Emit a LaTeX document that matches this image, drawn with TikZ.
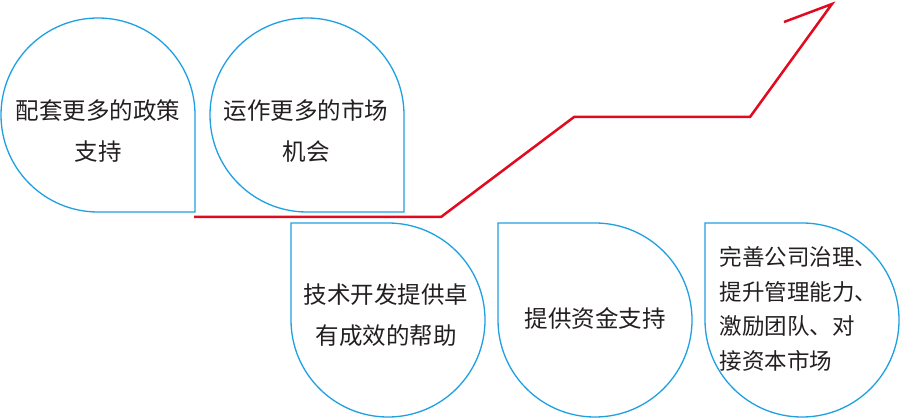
\documentclass[tikz,border=0pt]{standalone}
\usepackage{fontspec}
\newfontfamily\cjk{Noto Sans CJK SC}
\definecolor{bl}{RGB}{30,160,225}
\definecolor{rd}{RGB}{225,10,30}
\definecolor{tx}{RGB}{35,31,32}
\begin{document}
\begin{tikzpicture}[x=1pt,y=1pt,
  drop/.style={draw=bl,line width=1.3pt},
  lbl/.style={text=tx,font=\cjk\fontsize{23.5}{41}\selectfont,align=center},
  lbl4/.style={text=tx,font=\cjk\fontsize{22.5}{34.5}\selectfont,align=left}]
\useasboundingbox (0,0) rectangle (901,-419);
% top drops
\draw[drop] (195,-114) -- (195,-212) -- (98,-212) arc[start angle=270,end angle=0,radius=97] -- cycle;
\draw[drop] (404,-114) -- (404,-212) -- (307,-212) arc[start angle=270,end angle=0,radius=97] -- cycle;
% bottom drops
\draw[drop] (291,-320) -- (291,-223) -- (388,-223) arc[start angle=90,end angle=-180,radius=97] -- cycle;
\draw[drop] (498,-320) -- (498,-223) -- (595,-223) arc[start angle=90,end angle=-180,radius=97] -- cycle;
\draw[drop] (705,-320) -- (705,-223) -- (802,-223) arc[start angle=90,end angle=-180,radius=97] -- cycle;
\node[lbl] (t1) at (98,-131) {配套更多的政策\\支持};
\node[lbl] (t2) at (306,-131) {运作更多的市场\\机会};
\node[lbl] (b1) at (386,-315) {技术开发提供卓\\有成效的帮助};
\node[lbl] (b2) at (595,-318) {提供资金支持};
\node[lbl4,anchor=west] (b3) at (716,-309) {完善公司治理、\\提升管理能力、\\激励团队、对\\接资本市场};
% red line
\coordinate (r0) at (194,-217);
\coordinate (r1) at (441,-217);
\coordinate (r2) at (574,-117);
\coordinate (r3) at (750,-117);
\coordinate (r4) at (832,-4);
\coordinate (r5) at (784,-22);
\draw[rd,line width=2.5pt,line join=miter] (r0) -- (r1) -- (r2) -- (r3) -- (r4) -- (r5);
\end{tikzpicture}
\end{document}
